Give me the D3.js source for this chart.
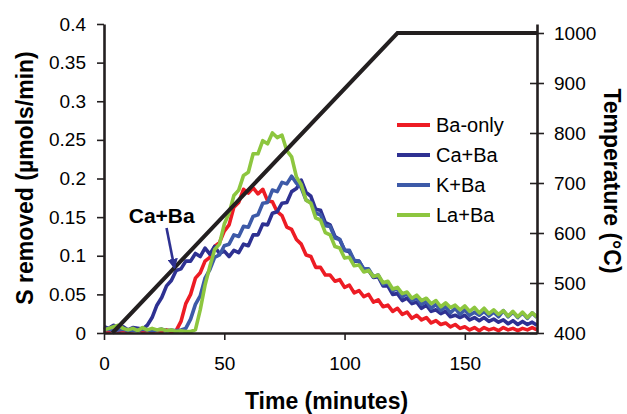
<!DOCTYPE html>
<html><head><meta charset="utf-8">
<script src="https://cdn.jsdelivr.net/npm/d3@7"></script>
<style>
html,body{margin:0;padding:0;background:#fff;}
svg text{font-family:"Liberation Sans",Arial,sans-serif;fill:#000;}
</style></head>
<body><svg id="c" width="627" height="414"></svg>
<script>
// ---- data ----
const time = [0,2,4,6,8,10,12,14,16,18,20,22,24,26,28,30,32,34,36,38,40,42,44,46,48,50,52,54,56,58,60,62,64,66,68,70,72,74,76,78,80,82,84,86,88,90,92,94,96,98,100,102,104,106,108,110,112,114,116,118,120,122,124,126,128,130,132,134,136,138,140,142,144,146,148,150,152,154,156,158,160,162,164,166,168,170,172,174,176,178,180];
const baOnly = [0.003,0.002,0.004,0.002,0.003,0.002,0.003,0.004,0.002,0.003,0.002,0.003,0.002,0.004,0.002,0.003,0.015,0.038,0.050,0.071,0.078,0.093,0.098,0.112,0.117,0.132,0.140,0.163,0.169,0.186,0.181,0.188,0.180,0.186,0.171,0.170,0.157,0.152,0.137,0.134,0.121,0.115,0.101,0.099,0.085,0.085,0.075,0.075,0.067,0.069,0.059,0.062,0.052,0.055,0.047,0.050,0.040,0.043,0.034,0.036,0.028,0.032,0.024,0.027,0.019,0.023,0.017,0.020,0.013,0.016,0.011,0.013,0.008,0.011,0.006,0.008,0.004,0.007,0.003,0.007,0.004,0.006,0.003,0.007,0.004,0.006,0.003,0.006,0.004,0.007,0.004];
const caBa = [0.008,0.006,0.010,0.005,0.008,0.004,0.007,0.006,0.005,0.010,0.020,0.036,0.046,0.061,0.068,0.081,0.083,0.093,0.093,0.103,0.099,0.110,0.102,0.112,0.103,0.106,0.099,0.107,0.104,0.115,0.113,0.127,0.127,0.141,0.140,0.155,0.157,0.168,0.169,0.183,0.187,0.198,0.182,0.177,0.160,0.159,0.143,0.140,0.125,0.121,0.107,0.105,0.093,0.093,0.082,0.081,0.072,0.073,0.061,0.061,0.050,0.051,0.042,0.045,0.038,0.040,0.032,0.036,0.028,0.030,0.025,0.028,0.021,0.023,0.020,0.023,0.017,0.020,0.016,0.020,0.015,0.018,0.014,0.017,0.012,0.016,0.011,0.015,0.011,0.014,0.010];
const kBa = [0.004,0.005,0.003,0.004,0.005,0.003,0.004,0.003,0.005,0.004,0.003,0.004,0.005,0.003,0.004,0.003,0.004,0.006,0.018,0.037,0.048,0.071,0.082,0.098,0.101,0.113,0.115,0.127,0.125,0.138,0.137,0.151,0.153,0.168,0.169,0.185,0.183,0.195,0.193,0.203,0.194,0.188,0.172,0.169,0.155,0.153,0.139,0.138,0.123,0.121,0.107,0.107,0.094,0.093,0.083,0.083,0.073,0.075,0.063,0.065,0.055,0.057,0.047,0.051,0.042,0.045,0.037,0.041,0.032,0.037,0.029,0.034,0.026,0.032,0.024,0.030,0.023,0.027,0.023,0.028,0.022,0.027,0.021,0.029,0.021,0.027,0.020,0.026,0.019,0.026,0.020];
const laBa = [0.004,0.006,0.008,0.010,0.006,0.004,0.006,0.003,0.007,0.004,0.006,0.004,0.005,0.003,0.004,0.002,0.003,0.002,0.002,0.004,0.030,0.062,0.086,0.108,0.115,0.141,0.155,0.178,0.185,0.204,0.208,0.232,0.232,0.249,0.245,0.259,0.253,0.256,0.236,0.228,0.202,0.192,0.172,0.168,0.149,0.146,0.130,0.127,0.112,0.110,0.097,0.098,0.087,0.088,0.079,0.081,0.073,0.075,0.065,0.067,0.057,0.059,0.051,0.053,0.045,0.049,0.042,0.045,0.038,0.042,0.034,0.039,0.033,0.036,0.030,0.035,0.028,0.033,0.026,0.032,0.025,0.030,0.024,0.029,0.022,0.028,0.021,0.027,0.020,0.026,0.021];
const tempTime = [3.5,122,180];
const tempValue = [400,1000,1000];
const seriesNames = ["Ba-only","Ca+Ba","K+Ba","La+Ba"];
const seriesColors = ["#ED1C24","#2E3192","#3D5AA8","#8DC63F"];
const xTicks = [0,50,100,150];
const yTicks = [0,0.05,0.1,0.15,0.2,0.25,0.3,0.35,0.4];
const yRTicks = [400,500,600,700,800,900,1000];

// ---- layout ----
const svg = d3.select("#c");
const L = 104, R = 537, T = 24, B = 333;
const x = d3.scaleLinear().domain([0,180]).range([L,R]);
const y = d3.scaleLinear().domain([0,0.4]).range([B,T]);
const yR = d3.scaleLinear().domain([400,1018]).range([B,T]);
const ink = "#231F20";

const seriesData = [baOnly, caBa, kBa, laBa];
const line = d3.line().x(d=>x(d[0])).y(d=>y(d[1]));
seriesData.forEach((vals,i)=>{
  svg.append("path")
    .datum(time.map((t,j)=>[t, vals[j]]))
    .attr("d", line).attr("fill","none")
    .attr("stroke", seriesColors[i]).attr("stroke-width",3.6)
    .attr("stroke-linejoin","round");
});
// temperature
const tline = d3.line().x(d=>x(d[0])).y(d=>yR(d[1]));
svg.append("path").datum(tempTime.map((t,i)=>[t,tempValue[i]]))
  .attr("d", tline).attr("fill","none").attr("stroke",ink).attr("stroke-width",4);

// axes
function styleAxis(g){
  g.select(".domain").attr("stroke",ink).attr("stroke-width",2.6);
  g.selectAll(".tick line").attr("stroke",ink).attr("stroke-width",1.6);
  g.selectAll(".tick text").attr("font-size",19).attr("fill","#000")
    .style("font-family","'Liberation Sans',Arial,sans-serif");
}
const gx = svg.append("g").attr("transform",`translate(0,${B})`)
  .call(d3.axisBottom(x).tickValues(xTicks).tickSize(7).tickPadding(17).tickSizeOuter(0).tickFormat(d3.format("d")));
styleAxis(gx);
const gy = svg.append("g").attr("transform",`translate(${L},0)`)
  .call(d3.axisLeft(y).tickValues(yTicks).tickSize(7).tickPadding(11).tickSizeOuter(0).tickFormat(d=>d===0?"0":String(+d.toFixed(2))));
styleAxis(gy);
const gr = svg.append("g").attr("transform",`translate(${R},0)`)
  .call(d3.axisRight(yR).tickValues(yRTicks).tickSize(7).tickPadding(10).tickSizeOuter(0).tickFormat(d3.format("d")));
styleAxis(gr);
gr.selectAll(".tick line").attr("x1",-7);

// axis titles
svg.append("text").attr("x",(L+R)/2+6).attr("y",409).attr("text-anchor","middle")
  .attr("font-size",23).attr("font-weight","bold").text("Time (minutes)");
svg.append("text").attr("transform","translate(33,178) rotate(-90)").attr("text-anchor","middle")
  .attr("font-size",23).attr("font-weight","bold").text("S removed (\u00b5mols/min)");
svg.append("text").attr("transform","translate(604,181) rotate(90)").attr("text-anchor","middle")
  .attr("font-size",23).attr("font-weight","bold").text("Temperature (\u00b0C)");

// legend
const lg = svg.append("g").attr("transform","translate(397,125)");
seriesNames.forEach((n,i)=>{
  const gy2 = i*30;
  lg.append("line").attr("x1",0).attr("x2",33).attr("y1",gy2).attr("y2",gy2)
    .attr("stroke",seriesColors[i]).attr("stroke-width",4);
  lg.append("text").attr("x",39).attr("y",gy2).attr("dy","0.36em").attr("font-size",20).text(n);
});

// annotation
svg.append("defs").append("marker").attr("id","ah").attr("viewBox","0 0 10 10")
  .attr("refX",9).attr("refY",5).attr("markerWidth",4).attr("markerHeight",4).attr("orient","auto")
  .append("path").attr("d","M0,0L10,5L0,10z").attr("fill","#2E3192");
svg.append("line").attr("x1",x(26)).attr("y1",y(0.136)).attr("x2",x(29.3)).attr("y2",y(0.084))
  .attr("stroke","#2E3192").attr("stroke-width",2.6).attr("marker-end","url(#ah)");
svg.append("text").attr("x",x(10.3)).attr("y",y(0.142)).attr("font-size",21).attr("font-weight","bold").text("Ca+Ba");
</script></body></html>
